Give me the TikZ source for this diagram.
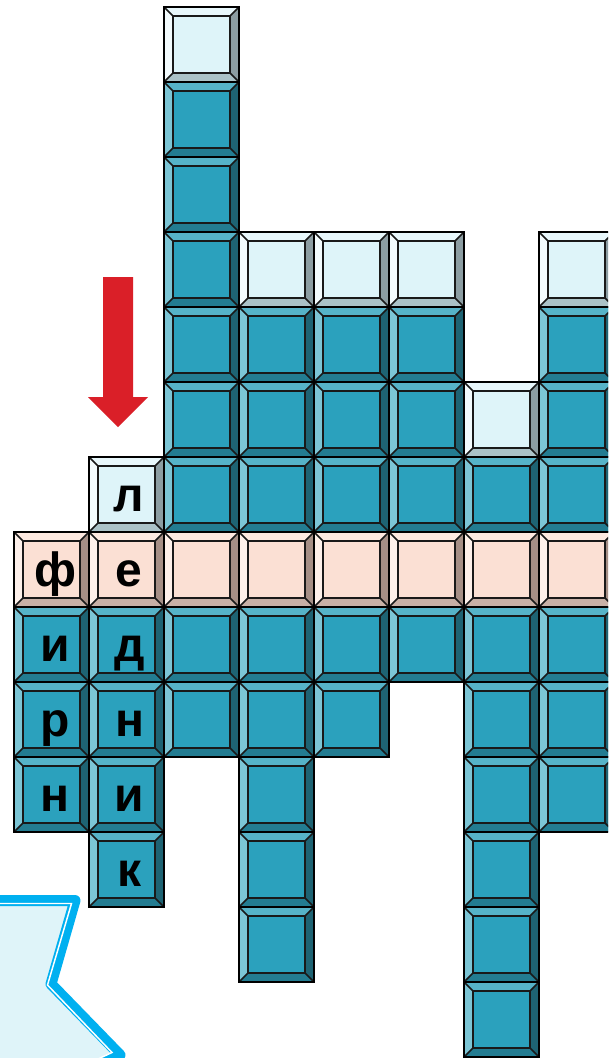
\documentclass[tikz,border=0pt]{standalone}
\usepackage{fontspec}
\setmainfont{Liberation Sans}
\definecolor{tC}{HTML}{2BA1BD}\definecolor{tT}{HTML}{56B3C8}\definecolor{tL}{HTML}{7CC5D5}\definecolor{tR}{HTML}{1E6373}\definecolor{tB}{HTML}{237C91}
\definecolor{lC}{HTML}{DEF4F9}\definecolor{lT}{HTML}{E8F7FB}\definecolor{lL}{HTML}{F3FBFD}\definecolor{lR}{HTML}{8C9DA2}\definecolor{lB}{HTML}{ABC2C7}
\definecolor{pC}{HTML}{FBE0D4}\definecolor{pT}{HTML}{FDE9E0}\definecolor{pL}{HTML}{FDF0EA}\definecolor{pR}{HTML}{A58F86}\definecolor{pB}{HTML}{C7B0A6}
\definecolor{arrowred}{HTML}{DA1F28}
\definecolor{calloutline}{HTML}{00B0F0}
\definecolor{calloutfill}{HTML}{DFF4F9}
\newcommand\kcell[3]{%
\begin{scope}[shift={({14+75*#1},{7+75*#2})}]
 \fill[#3C] (0,0) rectangle (75,75);
 \fill[#3T] (0,0) -- (75,0) -- (66,9) -- (9,9) -- cycle;
 \fill[#3L] (0,0) -- (9,9) -- (9,66) -- (0,75) -- cycle;
 \fill[#3R] (75,0) -- (75,75) -- (66,66) -- (66,9) -- cycle;
 \fill[#3B] (0,75) -- (75,75) -- (66,66) -- (9,66) -- cycle;
 \draw[innerline] (9,9) rectangle (66,66);
 \draw[innerline] (0,0)--(9,9) (75,0)--(66,9) (0,75)--(9,66) (75,75)--(66,66);
 \draw[outerline] (0,0) rectangle (75,75);
\end{scope}}
\begin{document}
\begin{tikzpicture}[x=0.75pt,y=-0.75pt,
  innerline/.style={draw=black!90,line width=1.1pt},
  outerline/.style={draw=black,line width=1.9pt,line join=miter},
  letter/.style={anchor=base,inner sep=0pt,font=\fontsize{36}{36}\selectfont\bfseries,text=black}]
\useasboundingbox (0,0) rectangle (608,1058);
\fill[white] (0,0) rectangle (608,1058);
\clip (0,0) rectangle (608,1058);
% callout
\fill[calloutfill] (-20,900.5) -- (75,900.5) -- (51,984) -- (120,1055) -- (-20,1120) -- cycle;
\draw[calloutline,line width=8.25pt,line join=round] (-20,900.5) -- (75,900.5) -- (51,984) -- (120,1055) -- (-20,1120);
\draw[white,line width=1.1pt] (-20,903.5) -- (71.5,903.5) -- (47.5,985) -- (112,1052.5) -- (-20,1114);
% arrow
\fill[arrowred] (103,277) -- (133,277) -- (133,397) -- (148,397) -- (118,427) -- (88,397) -- (103,397) -- cycle;
% cells
\kcell{0}{7}{p}
\foreach \r in {8,9,10} {\kcell{0}{\r}{t}}
\kcell{1}{6}{l}\kcell{1}{7}{p}
\foreach \r in {8,...,11} {\kcell{1}{\r}{t}}
\kcell{2}{0}{l}
\foreach \r in {1,...,6,8,9} {\kcell{2}{\r}{t}}
\kcell{2}{7}{p}
\kcell{3}{3}{l}
\foreach \r in {4,5,6,8,9,10,11,12} {\kcell{3}{\r}{t}}
\kcell{3}{7}{p}
\kcell{4}{3}{l}
\foreach \r in {4,5,6,8,9} {\kcell{4}{\r}{t}}
\kcell{4}{7}{p}
\kcell{5}{3}{l}
\foreach \r in {4,5,6,8} {\kcell{5}{\r}{t}}
\kcell{5}{7}{p}
\kcell{6}{5}{l}
\foreach \r in {6,8,9,10,11,12,13} {\kcell{6}{\r}{t}}
\kcell{6}{7}{p}
\kcell{7}{3}{l}
\foreach \r in {4,5,6,8,9,10} {\kcell{7}{\r}{t}}
\kcell{7}{7}{p}
% letters
\node[letter] (L1) at (128.5,511) {л};
\node[letter] (F) at (56,586) {ф};
\node[letter] (E) at (128.5,586) {е};
\node[letter] (I1) at (55,661) {и};
\node[letter] (D) at (129.5,661) {д};
\node[letter] (R) at (55,736) {р};
\node[letter] (N1) at (129.5,736) {н};
\node[letter] (N2) at (55,811) {н};
\node[letter] (I2) at (129.5,811) {и};
\node[letter] (K) at (129.5,886) {к};
\end{tikzpicture}
\end{document}
